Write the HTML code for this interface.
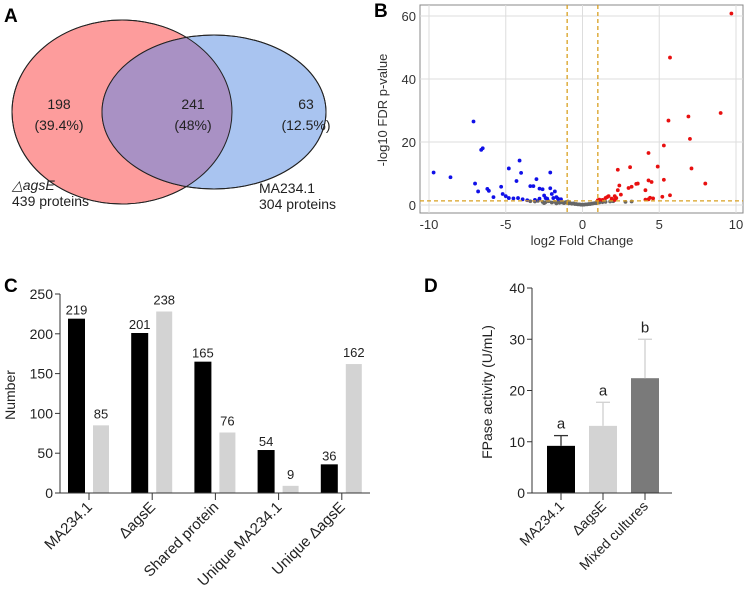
<!DOCTYPE html>
<html><head><meta charset="utf-8"><style>
body{margin:0;background:#fff;width:746px;height:602px;overflow:hidden}
svg{font-family:"Liberation Sans",Arial,sans-serif}
</style></head><body>
<svg id="fig" width="746" height="602" viewBox="0 0 746 602">
 <g>
  <text x="4" y="22" font-size="19" font-weight="bold">A</text>
  <ellipse cx="122" cy="112" rx="110" ry="92" fill="#fd9c9c" stroke="#222" stroke-width="1"/>
  <ellipse cx="214" cy="112" rx="112" ry="77" fill="#a9c4f0" stroke="#222" stroke-width="1"/>
  <clipPath id="clipRed"><ellipse cx="122" cy="112" rx="110" ry="92"/></clipPath>
  <ellipse cx="214" cy="112" rx="112" ry="77" fill="#a991c4" clip-path="url(#clipRed)"/>
  <ellipse cx="122" cy="112" rx="110" ry="92" fill="none" stroke="#222" stroke-width="1"/>
  <ellipse cx="214" cy="112" rx="112" ry="77" fill="none" stroke="#222" stroke-width="1"/>
  <g font-size="14" fill="#222" text-anchor="middle">
   <text x="59" y="109">198</text>
   <text x="59" y="130">(39.4%)</text>
   <text x="193" y="109">241</text>
   <text x="193" y="130">(48%)</text>
   <text x="306" y="109">63</text>
   <text x="306" y="130">(12.5%)</text>
  </g>
  <g font-size="14" fill="#222">
   <text x="12" y="190" font-style="italic">△agsE</text>
   <text x="12" y="206">439 proteins</text>
   <text x="259" y="193">MA234.1</text>
   <text x="259" y="209">304 proteins</text>
  </g>
 </g>
 <g id="pb">
  <text x="374" y="17" font-size="19" font-weight="bold">B</text>
 </g>
 <g id="pc">
  <text x="4" y="292" font-size="19" font-weight="bold">C</text>
 </g>
 <g id="pd">
  <text x="424" y="292" font-size="19" font-weight="bold">D</text>
 </g>
</svg>
<script>
const NS="http://www.w3.org/2000/svg";
function mk(p,tag,at,txt){const e=document.createElementNS(NS,tag);for(const k in at)e.setAttribute(k,at[k]);if(txt!==undefined)e.textContent=txt;p.appendChild(e);return e;}

// ---------- Panel B data ----------
const bTicksX=[-10,-5,0,5,10];
const bTicksY=[0,20,40,60];
const blueX=[-9.7,-8.6,-7.1,-7,-6.8,-6.6,-6.5,-6.2,-6.1,-5.8,-5.3,-5.2,-5,-4.8,-4.8,-4.5,-4.3,-4.1,-4,-4.2,-3.9,-3.6,-3.4,-3.2,-3,-2.8,-2.6,-2.5,-2.3,-2.1,-2.1,-2,-1.8,-1.7,-1.6,-1.4,-2.8,-3.1,-1.9,-2.4];
const blueY=[10.3,8.8,26.5,6.8,4.3,17.5,18,5.1,4.5,2.5,5.8,3.5,2.8,11.6,2.2,2.1,7.6,14.1,10.2,2.2,1.8,1.5,6,6,8.2,5.2,5,3,2,10.3,5.3,3.5,4.3,2.5,2,1.8,2,1.6,2.2,2.2];
const redX=[9.7,5.7,9,6.9,5.6,7,5.3,4.3,4.9,7.1,3.1,2.3,4.3,4.5,5.3,3.6,3.5,8,2.4,3,3.2,2.3,4.1,5.7,5.2,4.4,4.6,2.5,1.6,1.7,1.9,2.1,4.1,4.3,1.3,1.5,2.2,2.1,1,1.1];
const redY=[60.8,46.8,29.2,28.1,26.8,21,18.9,16.5,12.2,11.6,12,11.2,7.8,7.3,8,6.8,6.7,6.8,6.2,5.4,5.8,4.7,4.7,3.1,2.6,2.3,2.1,3.3,2.5,2.8,2,2.8,1.7,1.8,1.6,2.2,2.2,1.6,1.5,1.7];
const greyX=[-3.4,-3.1,-2.9,-2.6,-2.4,-2.2,-2,-1.8,-1.6,-1.5,-1.3,-1.2,-1.1,-1,-0.9,-0.8,-0.7,-0.6,-0.5,-0.4,-0.3,-0.2,-0.1,0,0.1,0.2,0.3,0.4,0.5,0.6,0.7,0.8,0.9,1.1,1.3,1.5,1.8,2,2.8,3.2,-1.7,-2.5,-0.95,0.95];
const greyY=[1.2,1.1,1.3,1,0.9,1.2,0.8,1,0.9,0.7,0.8,0.6,0.9,0.7,0.5,0.6,0.4,0.5,0.3,0.3,0.2,0.2,0.1,0.1,0.1,0.2,0.2,0.3,0.3,0.4,0.5,0.6,0.6,0.8,0.9,1,1.1,1.2,1,1.1,0.5,0.6,1.1,1];
const bThreshX=[-1,1];
const bThreshY=[1.3];

(function(){
 const g=document.getElementById('pb');
 const L=420,R=743,T=5,B=213;
 const sx=v=>582.5+v*15.35, sy=v=>205-v*3.15;
 const frame=mk(g,'rect',{x:L,y:T,width:R-L,height:B-T,fill:'#fff',stroke:'#888','stroke-width':1});
 
 
 for(const t of bTicksX){
  mk(g,'line',{x1:sx(t),x2:sx(t),y1:T,y2:B,stroke:'#ddd','stroke-width':1});
  const tl=mk(g,'text',{x:sx(t),y:229,'font-size':13,fill:'#333','text-anchor':'middle'},String(t));
  
  
 }
 for(const t of bTicksY){
  mk(g,'line',{x1:L,x2:R,y1:sy(t),y2:sy(t),stroke:'#ddd','stroke-width':1});
  const tl=mk(g,'text',{x:416,y:sy(t)+5,'font-size':13,fill:'#333','text-anchor':'end'},String(t));
  
  
 }
 const draw=(xs,ys,c,n)=>{for(let i=0;i<xs.length;i++){const d=mk(g,'circle',{cx:sx(xs[i]),cy:sy(ys[i]),r:1.9,fill:c});
  
  }};
 draw(greyX,greyY,'#666','point-not-significant');
 draw(blueX,blueY,'#1010e8','point-down');
 draw(redX,redY,'#e81010','point-up');
 for(const v of bThreshX){const l=mk(g,'line',{x1:sx(v),x2:sx(v),y1:T,y2:B,stroke:'#d9a020','stroke-width':1.3,'stroke-dasharray':'4,3'});
  
  }
 for(const v of bThreshY){const l=mk(g,'line',{x1:L,x2:R,y1:sy(v),y2:sy(v),stroke:'#d9a020','stroke-width':1.3,'stroke-dasharray':'4,3'});
  
  }
 const xt=mk(g,'text',{x:582,y:245,'font-size':13,fill:'#333','text-anchor':'middle'},'log2 Fold Change');
 
 
 const yt=mk(g,'text',{x:0,y:0,'font-size':13,fill:'#333','text-anchor':'middle',transform:'translate(387,110) rotate(-90)'},'-log10 FDR p-value');
 
 
})();

// ---------- Panel C data ----------
const cCategories=['MA234.1','ΔagsE','Shared protein','Unique MA234.1','Unique ΔagsE'];
const cBlack=[219,201,165,54,36];
const cGrey=[85,228,76,9,162];
const cBlackLabels=['219','201','165','54','36'];
const cGreyLabels=['85','238','76','9','162'];
const cTicks=[0,50,100,150,200,250];

(function(){
 const g=document.getElementById('pc');
 const X0=60,XR=370,Y0=493,ppu=(493-294)/250;
 const sy=v=>Y0-v*ppu;
 const gx=i=>89+i*63.2;
 for(let i=0;i<cCategories.length;i++){
  const bx=gx(i)-21,wx=gx(i)+4;
  const b=mk(g,'rect',{x:bx,y:sy(cBlack[i]),width:17,height:cBlack[i]*ppu,fill:'#000'});
  
  
  const w=mk(g,'rect',{x:wx,y:sy(cGrey[i]),width:16,height:cGrey[i]*ppu,fill:'#d3d3d3'});
  
  
  const l1=mk(g,'text',{x:bx+8.5,y:sy(cBlack[i])-4,'font-size':13,fill:'#222','text-anchor':'middle'},cBlackLabels[i]);
  
  
  const l2=mk(g,'text',{x:wx+8,y:sy(cGrey[i])-7,'font-size':13,fill:'#222','text-anchor':'middle'},cGreyLabels[i]);
  
  
  mk(g,'line',{x1:gx(i),x2:gx(i),y1:Y0,y2:Y0+7,stroke:'#333'});
  const cl=mk(g,'text',{x:0,y:0,'font-size':15,fill:'#222','text-anchor':'end',transform:`translate(${gx(i)+4},${Y0+15}) rotate(-45)`},cCategories[i]);
  
  
 }
 mk(g,'line',{x1:X0,x2:X0,y1:sy(250),y2:Y0,stroke:'#333'});
 mk(g,'line',{x1:X0,x2:XR,y1:Y0,y2:Y0,stroke:'#333'});
 for(const t of cTicks){
  mk(g,'line',{x1:X0-5,x2:X0,y1:sy(t),y2:sy(t),stroke:'#333'});
  const tl=mk(g,'text',{x:X0-7,y:sy(t)+5,'font-size':14,fill:'#222','text-anchor':'end'},String(t));
  
  
 }
 const yt=mk(g,'text',{x:0,y:0,'font-size':14,fill:'#222','text-anchor':'middle',transform:'translate(15,395) rotate(-90)'},'Number');
 
 
})();

// ---------- Panel D data ----------
const dCategories=['MA234.1','ΔagsE','Mixed cultures'];
const dMeans=[9.2,13.1,22.4];
const dErrors=[2.0,4.6,7.6];
const dLetters=['a','a','b'];
const dColors=['#000','#d3d3d3','#7a7a7a'];
const dTicks=[0,10,20,30,40];

(function(){
 const g=document.getElementById('pd');
 const X0=532,XR=672,Y0=493,ppu=(493-288)/40;
 const sy=v=>Y0-v*ppu;
 const cx=i=>561+i*42;
 for(let i=0;i<dCategories.length;i++){
  const b=mk(g,'rect',{x:cx(i)-14,y:sy(dMeans[i]),width:28,height:dMeans[i]*ppu,fill:dColors[i]});
  
  
  const top=sy(dMeans[i]+dErrors[i]);
  const ec=i===0?'#333':'#d0d0d0';
  const e1=mk(g,'line',{x1:cx(i),x2:cx(i),y1:sy(dMeans[i]),y2:top,stroke:ec,'stroke-width':1.3});
  
  
  mk(g,'line',{x1:cx(i)-7,x2:cx(i)+7,y1:top,y2:top,stroke:ec,'stroke-width':1.3});
  const lt=mk(g,'text',{x:cx(i),y:top-7,'font-size':15,fill:'#222','text-anchor':'middle'},dLetters[i]);
  
  
  mk(g,'line',{x1:cx(i),x2:cx(i),y1:Y0,y2:Y0+7,stroke:'#333'});
  const cl=mk(g,'text',{x:0,y:0,'font-size':14,fill:'#222','text-anchor':'end',transform:`translate(${cx(i)+4},${Y0+14}) rotate(-45)`},dCategories[i]);
  
  
 }
 mk(g,'line',{x1:X0,x2:X0,y1:sy(40),y2:Y0,stroke:'#333'});
 mk(g,'line',{x1:X0,x2:XR,y1:Y0,y2:Y0,stroke:'#333'});
 for(const t of dTicks){
  mk(g,'line',{x1:X0-5,x2:X0,y1:sy(t),y2:sy(t),stroke:'#333'});
  const tl=mk(g,'text',{x:X0-7,y:sy(t)+5,'font-size':14,fill:'#222','text-anchor':'end'},String(t));
  
  
 }
 const yt=mk(g,'text',{x:0,y:0,'font-size':14,fill:'#222','text-anchor':'middle',transform:'translate(492,392) rotate(-90)'},'FPase activity (U/mL)');
 
 
})();
</script>
</body></html>
